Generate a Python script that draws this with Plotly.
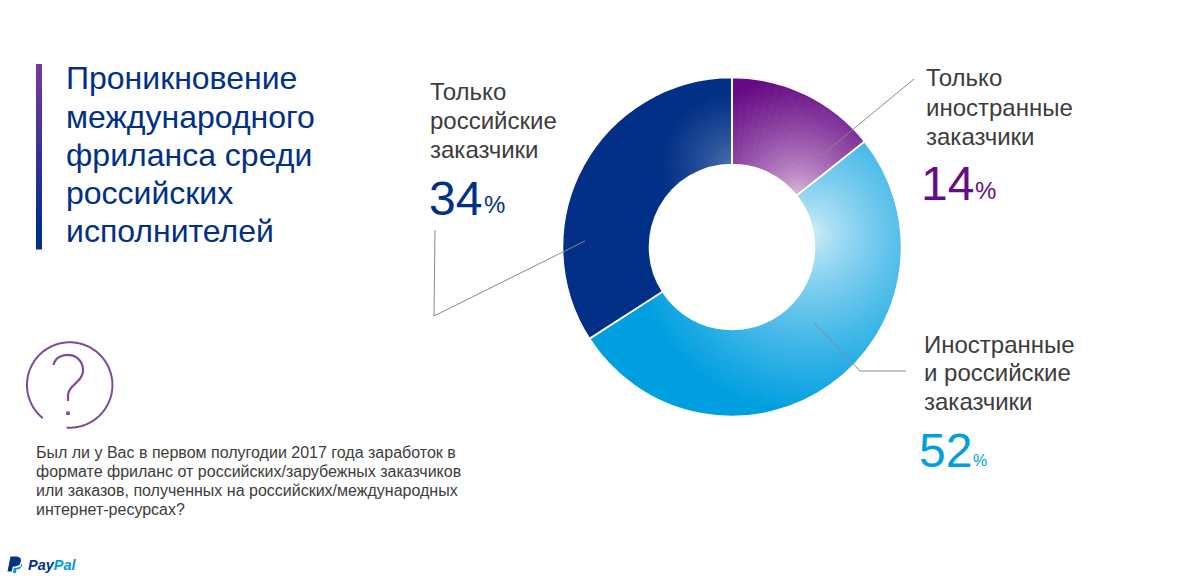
import math
import plotly.graph_objects as go

W, H = 1186, 584
categories = ["Только иностранные заказчики", "Иностранные и российские заказчики", "Только российские заказчики"]
values = [14.3, 51.6, 34.1]
base_colors = [(0x66, 0x0A, 0x85), (0x00, 0x9F, 0xE0), (0x03, 0x30, 0x87)]
light_colors = [(0xE2, 0xC4, 0xE2), (0xDC, 0xF1, 0xFA), (0x4E, 0x74, 0xAB)]
focus = [(65, -50), (78, -13), (0, -83)]
reach = [120, 180, 70]
title_lines = ["Проникновение", "международного", "фриланса среди", "российских", "исполнителей"]
question_lines = [
    "Был ли у Вас в первом полугодии 2017 года заработок в",
    "формате фриланс от российских/зарубежных заказчиков",
    "или заказов, полученных на российских/международных",
    "интернет-ресурсах?",
]

FONT = "Liberation Sans, Arial, sans-serif"
CX, CY, R_OUT, R_IN = 732, 247, 169.5, 82.5
RINGS = 20
STEP_DEG = 3


def px(x):
    return x / W


def py(y):
    return 1 - y / H


def sub_slices():
    out = []
    start = 0.0
    for i, v in enumerate(values):
        n = max(1, round(v * 3.6 / STEP_DEG))
        for k in range(n):
            out.append((i, v / n, start + (k + 0.5) * v / n))
        start += v
    return out


def shade(i, r, pct):
    a = math.radians(pct * 3.6)
    x, y = r * math.sin(a), -r * math.cos(a)
    d = math.hypot(x - focus[i][0], y - focus[i][1])
    t = min(1.0, d / reach[i]) ** 0.72
    c = [round(l + (b - l) * t) for l, b in zip(light_colors[i], base_colors[i])]
    return "rgb(%d,%d,%d)" % tuple(c)


def domain(r):
    return dict(x=[px(CX - r), px(CX + r)], y=[py(CY + r), py(CY - r)])


fig = go.Figure()
subs = sub_slices()
dr = (R_OUT - R_IN) / RINGS
for j in reversed(range(RINGS)):
    r0 = R_IN + j * dr
    r1 = r0 + dr
    rm = (r0 + r1) / 2
    cols = [shade(i, rm, p) for i, _, p in subs]
    inner = r0 - 1.5 if j > 0 else r0 + 0.5
    outer = r1 - 0.5 if j == RINGS - 1 else r1
    fig.add_trace(go.Pie(
        values=[s[1] for s in subs], sort=False, direction="clockwise", rotation=0,
        hole=inner / outer, domain=domain(outer), textinfo="none", hoverinfo="skip",
        marker=dict(colors=cols, line=dict(color=cols, width=1.2)), showlegend=False,
    ))

# the true three slices: separators on top of the shading
fig.add_trace(go.Pie(
    labels=categories, values=values, sort=False, direction="clockwise", rotation=0,
    hole=R_IN / R_OUT, domain=domain(R_OUT), textinfo="none",
    marker=dict(colors=["rgba(0,0,0,0)"] * 3, line=dict(color="white", width=1.6)),
    showlegend=False,
))

shapes = []


def line(points, color="#8a8a8a", width=1, closed=False, fill=None):
    p = "M" + " L".join("%.5f,%.5f" % (px(x), py(y)) for x, y in points)
    if closed:
        p += " Z"
    s = dict(type="path", xref="paper", yref="paper", path=p, layer="above",
             line=dict(color=color, width=width))
    if fill:
        s["fillcolor"] = fill
        s["line"] = dict(width=0)
    shapes.append(s)


# leader lines
line([(822, 155), (914, 79)])
line([(814, 323), (860, 371), (906, 371)])
line([(585, 241), (434, 316), (435, 230)])

# gradient title bar
TOP, BOT = 64, 249
N = 37
for k in range(N):
    t = k / (N - 1)
    a, b = (0x7A, 0x35, 0xA5), (0x03, 0x30, 0x87)
    c = "rgb(%d,%d,%d)" % tuple(round(u + (v - u) * min(1, t * 1.15)) for u, v in zip(a, b))
    y0 = TOP + (BOT - TOP) * k / N
    y1 = TOP + (BOT - TOP) * (k + 1) / N + 0.5
    shapes.append(dict(type="rect", xref="paper", yref="paper", x0=px(36), x1=px(42),
                       y0=py(y1), y1=py(y0), fillcolor=c, line=dict(width=0), layer="above"))

# question icon
ICON = "#7D4A9B"
cxi, cyi, ri = 69.7, 385, 42.7
pts = []
a0 = math.degrees(math.atan2(125, -9))
a1 = math.degrees(math.atan2(97, -79))
for d in range(0, 301):
    a = math.radians(a0 - d / 300 * (360 - (a1 - a0)))
    pts.append((cxi + ri * math.cos(a), cyi + ri * math.sin(a)))
line(pts, ICON, 2)


def bez(p0, p1, p2, p3, n=14):
    o = []
    for i in range(n + 1):
        t = i / n
        m = 1 - t
        o.append((m**3 * p0[0] + 3 * m * m * t * p1[0] + 3 * m * t * t * p2[0] + t**3 * p3[0],
                  m**3 * p0[1] + 3 * m * m * t * p1[1] + 3 * m * t * t * p2[1] + t**3 * p3[1]))
    return o


q = (bez((53.5, 365), (55, 358), (61, 355), (68, 355))
     + bez((68, 355), (77, 355), (83, 362), (83, 370))
     + bez((83, 370), (83, 382), (68, 385), (68, 396))
     + [(68, 401)])
line(q, ICON, 2.2)
line([(66.2, 411.5), (69.8, 411.5), (69.8, 415), (66.2, 415)], ICON, 1.5, closed=True, fill=ICON)

# PayPal mark
line([(10.5, 556.5), (17, 556.5), (20.5, 558), (21, 561), (19.5, 565), (15, 566.5), (12.8, 566.5),
      (11.8, 571.5), (7.5, 571.5)], "#003087", closed=True, fill="#003087")
line([(12.8, 573), (13.8, 568), (16, 568), (20.5, 566.5), (22, 562.5), (22, 566), (19.5, 569),
      (16.5, 569.5), (16, 573)], "#009CDE", closed=True, fill="#009CDE")

ann = []


def text(x, y, s, size, color="#3C3C3C", **kw):
    ann.append(dict(x=px(x), y=py(y), xref="paper", yref="paper", text=s, showarrow=False,
                    xanchor="left", yanchor="middle", align="left", borderpad=0, borderwidth=0,
                    font=dict(family=FONT, size=size, color=color), **kw))


for i, s in enumerate(title_lines):
    text(66, 78.5 + i * 38.2, s, 32, "#003087")
for i, s in enumerate(question_lines):
    text(36, 452 + i * 19.3, s, 16, "#3C3C3C")
for y, s in zip((92, 120.5, 149.5), ("Только", "российские", "заказчики")):
    text(430, y, s, 24)
for y, s in zip((78, 107, 136), ("Только", "иностранные", "заказчики")):
    text(926, y, s, 24)
for y, s in zip((344, 372.5, 401), ("Иностранные", "и российские", "заказчики")):
    text(924, y, s, 24)
text(429, 198, "34", 48, "#003087")
text(484, 204, "%", 24, "#003087")
text(921, 183, "14", 48, "#660A85")
text(975, 190, "%", 24, "#660A85")
text(919, 450, "52", 48, "#009FE0")
text(973, 460, "%", 16, "#009FE0")
text(28, 565, "<b><i><span style='color:#003087'>Pay</span><span style='color:#009CDE'>Pal</span></i></b>", 14.5)

fig.update_layout(width=W, height=H, margin=dict(l=0, r=0, t=0, b=0, autoexpand=False),
                  paper_bgcolor="white", plot_bgcolor="white", showlegend=False,
                  shapes=shapes, annotations=ann, font=dict(family=FONT))
fig.write_html("out.html", post_script="document.body.style.margin='0';",
               config=dict(displayModeBar=False))
